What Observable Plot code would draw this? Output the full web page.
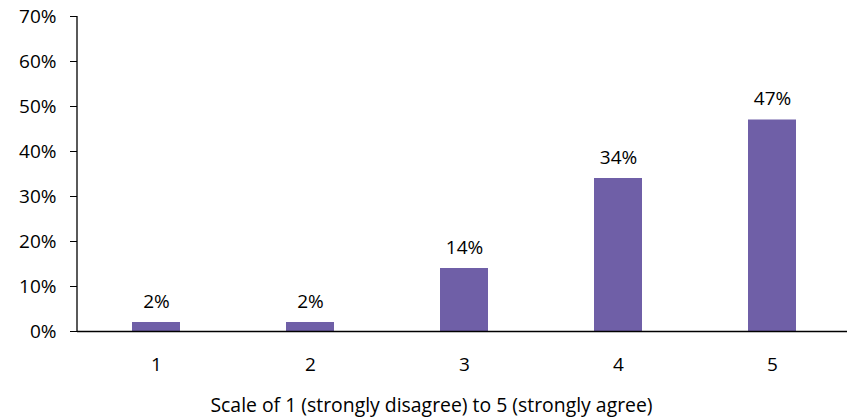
<!DOCTYPE html>
<html>
<head>
<meta charset="utf-8">
<script src="https://cdn.jsdelivr.net/npm/d3@7"></script>
<script src="https://cdn.jsdelivr.net/npm/@observablehq/plot@0.6"></script>
<style>
  html, body { margin: 0; padding: 0; background: #fff; overflow: hidden; }
  #chart { width: 847px; height: 417px; overflow: hidden; }
  #chart svg { max-width: none !important; }
</style>
</head>
<body>
<div id="chart"></div>
<script>
const categories = ["1", "2", "3", "4", "5"];
const values = [2, 2, 14, 34, 47];
const yTicks = [0, 10, 20, 30, 40, 50, 60, 70];
const xTitle = "Scale of 1 (strongly disagree) to 5 (strongly agree)";

const data = categories.map((c, i) => ({ category: c, value: values[i] }));
const font = "'Open Sans', sans-serif";

const yAxisLine = (index, scales, values, dims) => {
  const ns = "http://www.w3.org/2000/svg";
  const line = document.createElementNS(ns, "line");
  line.setAttribute("x1", dims.marginLeft);
  line.setAttribute("x2", dims.marginLeft);
  line.setAttribute("y1", scales.y(70));
  line.setAttribute("y2", scales.y(0));
  line.setAttribute("stroke", "#000");
  line.setAttribute("stroke-width", 1.3);
  return line;
};

const chart = Plot.plot({
  width: 851,
  height: 417,
  marginLeft: 77,
  marginRight: 0,
  marginTop: 16,
  marginBottom: 86,
  style: { fontFamily: font, fontSize: "19px", color: "#000", background: "#fff" },
  x: { domain: categories, paddingInner: 0.69, paddingOuter: 0.345, label: null },
  y: { domain: [0, 70], label: null },
  marks: [
    Plot.axisY({ ticks: yTicks, tickFormat: d => d + "%", tickSize: 7, tickPadding: 14, label: null, fontSize: 19 }),
    Plot.axisX({ tickSize: 0, tickPadding: 26, label: null, fontSize: 19 }),
    Plot.barY(data, { x: "category", y: "value", fill: "#6f5fa7" }),
    Plot.ruleY([0], { stroke: "#000", strokeWidth: 1.3 }),
    yAxisLine,
    Plot.text(data, { x: "category", y: "value", text: d => d.value + "%", dy: -21, fontSize: 19, fill: "#000" }),
    Plot.text([xTitle], { frameAnchor: "bottom", dx: -33, dy: 80, fontSize: 19.4, fill: "#000" })
  ]
});
document.getElementById("chart").appendChild(chart);
</script>
</body>
</html>
